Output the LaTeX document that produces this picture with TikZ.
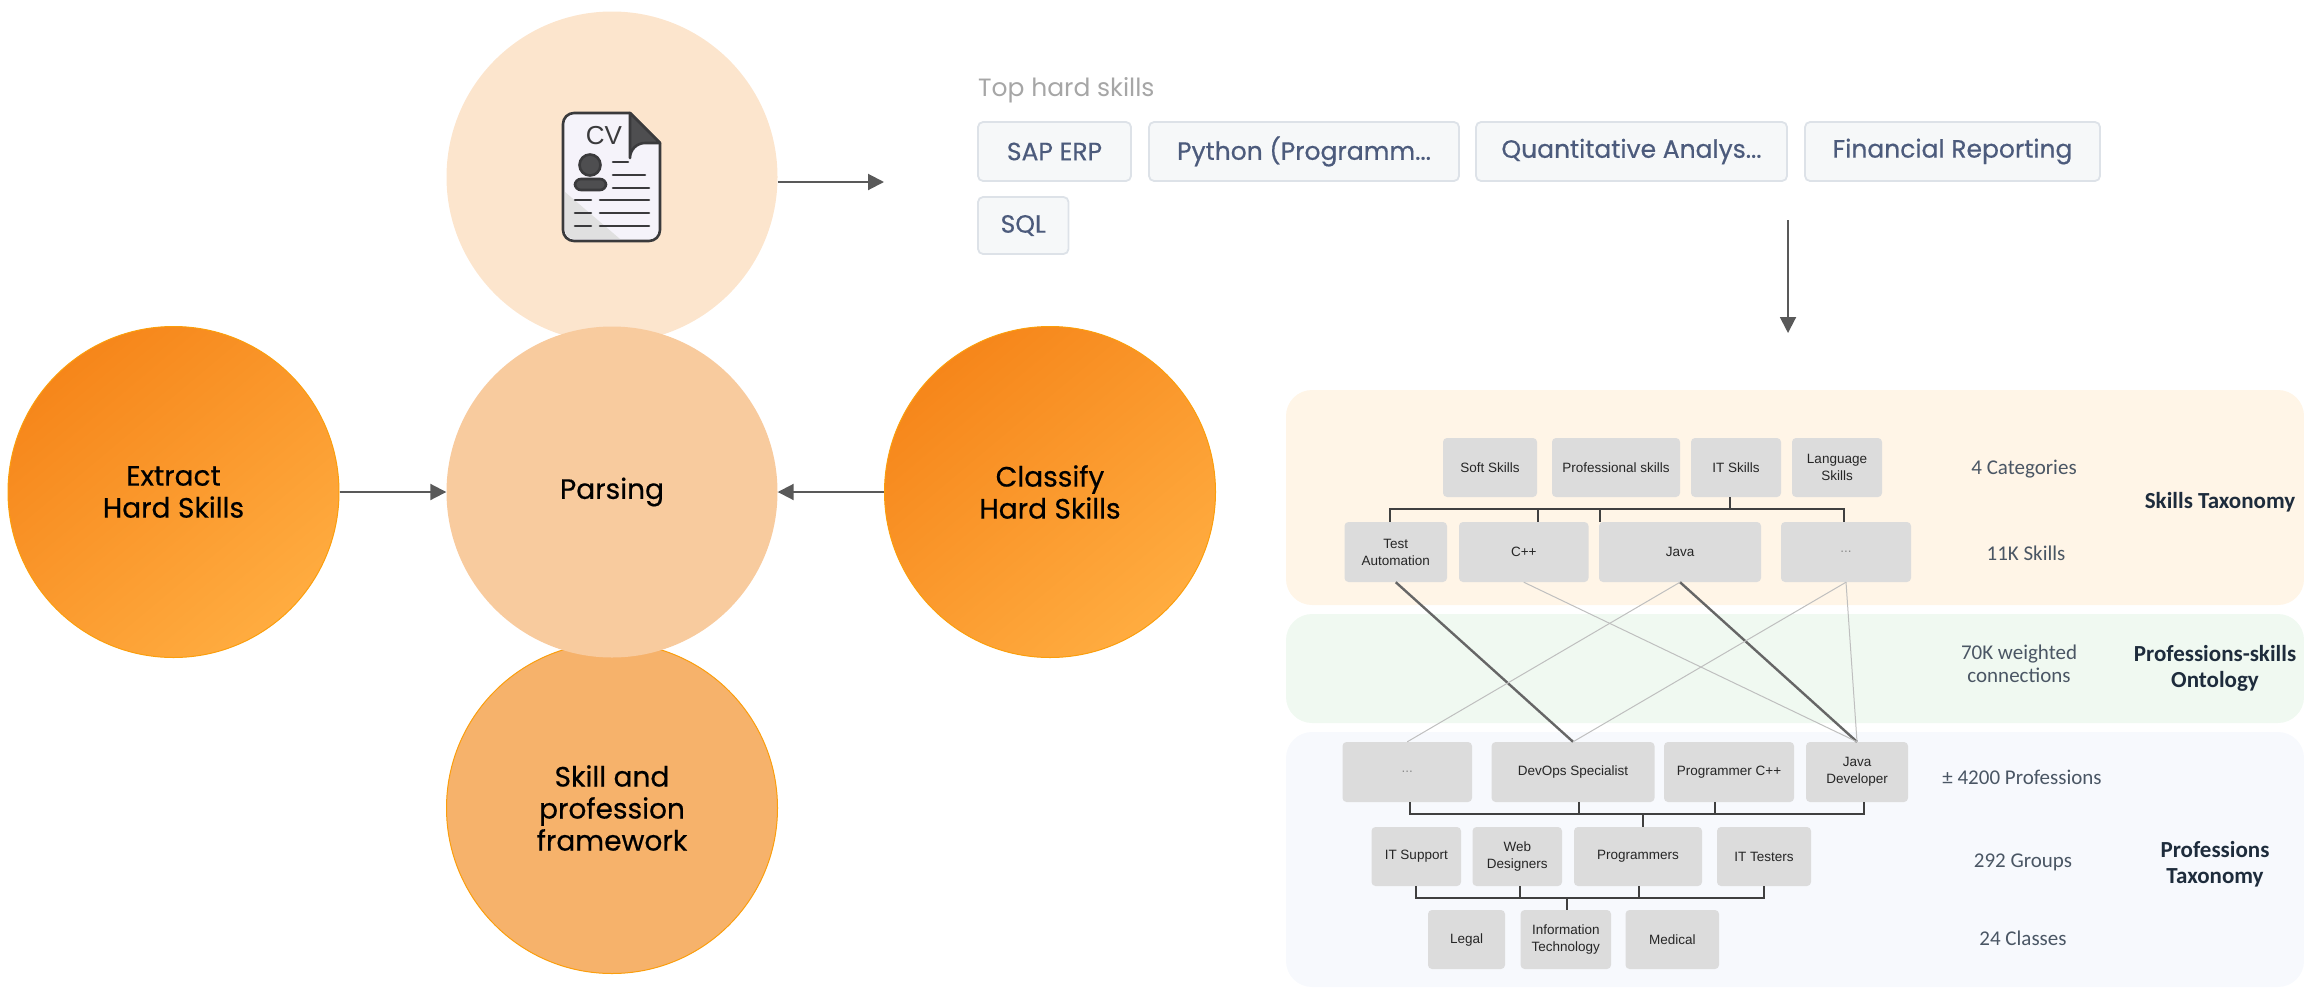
\documentclass[tikz,border=0pt]{standalone}
\usepackage{fontspec}
\setmainfont{Liberation Sans}
\newfontfamily\pop{Poppins}
\newfontfamily\popb{Poppins}[FakeBold=0.5]
\newfontfamily\car{Carlito}
\usetikzlibrary{arrows.meta}
\definecolor{orangeA}{HTML}{F6861A}
\definecolor{orangeB}{HTML}{FFAC40}
\definecolor{orangeEdge}{HTML}{FB9E0C}
\definecolor{arrowgrey}{HTML}{595959}
\definecolor{navy}{HTML}{1E2C3C}
\definecolor{slate}{HTML}{4A5664}
\definecolor{chiptext}{HTML}{4C5B7C}
\definecolor{chipfill}{HTML}{F6F8F9}
\definecolor{chipedge}{HTML}{DDE2E8}
\definecolor{iconink}{HTML}{3A3A3C}
\definecolor{bandA}{HTML}{FFF5E7}
\definecolor{bandB}{HTML}{F0F9F1}
\definecolor{bandC}{HTML}{F7F9FD}
\definecolor{discCv}{HTML}{FCE5CD}
\definecolor{discParse}{HTML}{F8CB9E}
\definecolor{discFrame}{HTML}{F6B26B}
\definecolor{cellfill}{HTML}{DCDCDC}
\tikzset{
  x=1pt,y=-1pt,
  disc/.style={circle,inner sep=0pt,minimum size=331pt,align=center,text=black,
    font=\popb\fontsize{28}{32}\selectfont},
  hot/.style={disc,draw=orangeEdge,line width=1pt,left color=orangeA,right color=orangeB,shading angle=40},
  flow/.style={draw=arrowgrey,line width=2pt,-{Triangle[length=16pt,width=16pt]}},
  panel/.style={rectangle,rounded corners=26pt,inner sep=0pt},
  cell/.style={rectangle,rounded corners=4pt,fill=cellfill,inner sep=0pt,align=center,text=black!85,
    font=\fontsize{13.5}{17}\selectfont},
  chip/.style={rectangle,rounded corners=5pt,fill=chipfill,draw=chipedge,line width=1.8pt,inner sep=0pt,
    text=chiptext,font=\popb\fontsize{25}{28}\selectfont},
  note/.style={align=center,text=slate,font=\car\fontsize{21}{23}\selectfont},
  head/.style={align=center,text=navy,font=\car\bfseries\fontsize{23}{26}\selectfont},
  bus/.style={draw=black!75,line width=2pt},
  strong/.style={draw=black!60,line width=2.4pt},
  faint/.style={draw=black!25,line width=1pt},
  ink/.style={draw=iconink,line width=2.6pt,line cap=round},
}
\newcommand{\rbox}[7][]{%
  \pgfmathsetmacro{\cxv}{(#3+#5)/2}\pgfmathsetmacro{\cyv}{(#4+#6)/2}%
  \pgfmathsetmacro{\wv}{#5-#3}\pgfmathsetmacro{\hv}{#6-#4}%
  \node[#1,minimum width=\wv pt,minimum height=\hv pt] (#2) at (\cxv,\cyv) {#7};}
\begin{document}
\begin{tikzpicture}
\useasboundingbox (0,0) rectangle (2304,988);
% panels
\rbox[panel,fill=bandA]{pa}{1286}{390}{2304}{605}{}
\rbox[panel,fill=bandB]{pb}{1286}{614}{2304}{723}{}
\rbox[panel,fill=bandC]{pc}{1286}{732}{2304}{987}{}
% discs
\node[disc,fill=discFrame,draw=orangeEdge,line width=1pt] (frame) at (612,808) {Skill and\\profession\\framework};
\node[disc,fill=discCv] (cv) at (612,177) {};
\node[disc,fill=discParse] (parse) at (612,492) {Parsing};
\node[hot] (extract) at (173.5,492) {Extract\\Hard Skills};
\node[hot] (classify) at (1050,492) {Classify\\Hard Skills};
% CV icon
\draw[ink,fill={rgb,255:red,245;green,243;blue,250},line join=round]
  (630,113) -- (574,113) arc[start angle=-90,end angle=-180,radius=11] -- (563,230)
  arc[start angle=180,end angle=90,radius=11] -- (649,241) arc[start angle=90,end angle=0,radius=11] -- (660,143) -- cycle;
\fill[black!12] (565,192) -- (565,230) arc[start angle=180,end angle=90,radius=9] -- (620,239) -- cycle;
\draw[ink,fill=iconink!90,line join=round] (630,113) -- (660,143) -- (645,143) arc[start angle=-90,end angle=-180,radius=15] -- cycle;
\node[text=iconink,inner sep=0pt,font=\fontsize{26}{26}\selectfont] (cvtext) at (604,136) {CV};
\draw[ink,fill=iconink!90] (590,165) circle[radius=10.5];
\draw[ink,fill=iconink!90,rounded corners=6pt] (575,179) rectangle (606,190);
\foreach \ya/\xa/\xb in {162/613/628,175/613/645,188/613/649,200/600/649,213/600/649,226/600/649}
  \draw[ink] (\xa,\ya) -- (\xb,\ya);
\foreach \ya in {200,213,226} \draw[ink] (575,\ya) -- (591,\ya);
% chips
\node[anchor=west,inner sep=0pt,text=black!35,font=\pop\fontsize{25}{28}\selectfont] (tophard) at (978,90) {Top hard skills};
\rbox[chip]{c1}{978}{122}{1131}{181}{SAP ERP}
\rbox[chip]{c2}{1149}{122}{1459}{181}{Python (Programm...}
\rbox[chip]{c3}{1476}{122}{1787}{181}{Quantitative Analys...}
\rbox[chip]{c4}{1805}{122}{2100}{181}{Financial Reporting}
\rbox[chip]{c5}{978}{197}{1068.5}{254}{SQL}
% flow arrows
\coordinate (cvEnd) at (884,182);
\coordinate (dnStart) at (1788,220);
\coordinate (dnEnd) at (1788,333);
\draw[flow] (cv.east |- cvEnd) -- (cvEnd);
\draw[flow] (dnStart) -- (dnEnd);
\draw[flow] (extract) -- (parse);
\draw[flow] (classify) -- (parse);
% taxonomy boxes
\rbox[cell]{soft}{1443}{438}{1537}{497}{Soft Skills}
\rbox[cell]{prof}{1552}{438}{1680}{497}{Professional skills}
\rbox[cell]{its}{1691}{438}{1781}{497}{IT Skills}
\rbox[cell]{lang}{1792}{438}{1882}{497}{Language\\Skills}
\rbox[cell]{test}{1344.5}{522}{1447}{582}{Test\\Automation}
\rbox[cell]{cpp}{1459}{522}{1588.5}{582}{C++}
\rbox[cell]{java}{1599}{522}{1761}{582}{Java}
\rbox[cell]{dotsa}{1781}{522}{1911}{582}{\textcolor{black!45}{...}}
\rbox[cell]{dotsb}{1342.5}{742}{1472}{802}{\textcolor{black!45}{...}}
\rbox[cell]{devops}{1491.6}{742}{1654.5}{802}{DevOps Specialist}
\rbox[cell]{progc}{1664}{742}{1794}{802}{Programmer C++}
\rbox[cell]{javadev}{1806}{742}{1908}{802}{Java\\Developer}
\rbox[cell]{itsup}{1371.5}{827}{1461}{886}{IT Support}
\rbox[cell]{web}{1472.5}{827}{1562}{886}{Web\\Designers}
\rbox[cell]{prog}{1574}{827}{1702}{886}{Programmers}
\rbox[cell]{ittest}{1717}{827}{1811}{886}{IT Testers}
\rbox[cell]{legal}{1428}{910}{1505}{969}{Legal}
\rbox[cell]{info}{1520.6}{910}{1611}{969}{Information\\Technology}
\rbox[cell]{medical}{1625.5}{910}{1719}{969}{Medical}
% trees
\coordinate (busA) at (1730,509);
\coordinate (busB) at (1643,814);
\coordinate (busC) at (1567,898);
\draw[bus] ([xshift=-6]its.south) -- (busA);
\draw[bus] ([xshift=-5.75]test.north) |- (busA);
\draw[bus] ([xshift=14.25]cpp.north) |- (busA);
\draw[bus] ([xshift=-80]java.north) |- (busA);
\draw[bus] ([xshift=-2]dotsa.north) |- (busA);
\draw[bus] ([xshift=2.75]dotsb.south) |- (busB);
\draw[bus] ([xshift=6]devops.south) |- (busB);
\draw[bus] ([xshift=-14]progc.south) |- (busB);
\draw[bus] ([xshift=6.5]javadev.south) |- (busB);
\draw[bus] (busB) -- ([xshift=5]prog.north);
\draw[bus] (itsup.south) |- (busC);
\draw[bus] ([xshift=3]web.south) |- (busC);
\draw[bus] ([xshift=1]prog.south) |- (busC);
\draw[bus] (ittest.south) |- (busC);
\draw[bus] (busC) -- ([xshift=1.2]info.north);
% weighted links
\draw[strong] (test.south) -- (devops.north);
\draw[strong] (java.south) -- (javadev.north);
\draw[faint] (cpp.south) -- (javadev.north);
\draw[faint] (java.south) -- (dotsb.north);
\draw[faint] (dotsa.south) -- (devops.north);
\draw[faint] (dotsa.south) -- (javadev.north);
% labels
\node[note] (n1) at (2024,469) {4 Categories};
\node[note] (n2) at (2026,553) {11K Skills};
\node[note] (n3) at (2019,664) {70K weighted\\connections};
\node[note] (n4) at (2022,777) {± 4200 Professions};
\node[note] (n5) at (2023,862) {292 Groups};
\node[note] (n6) at (2023,938) {24 Classes};
\node[head] (h1) at (2220,502) {Skills Taxonomy};
\node[head] (h2) at (2215,668) {Professions-skills\\Ontology};
\node[head] (h3) at (2215,864) {Professions\\Taxonomy};
\end{tikzpicture}
\end{document}
